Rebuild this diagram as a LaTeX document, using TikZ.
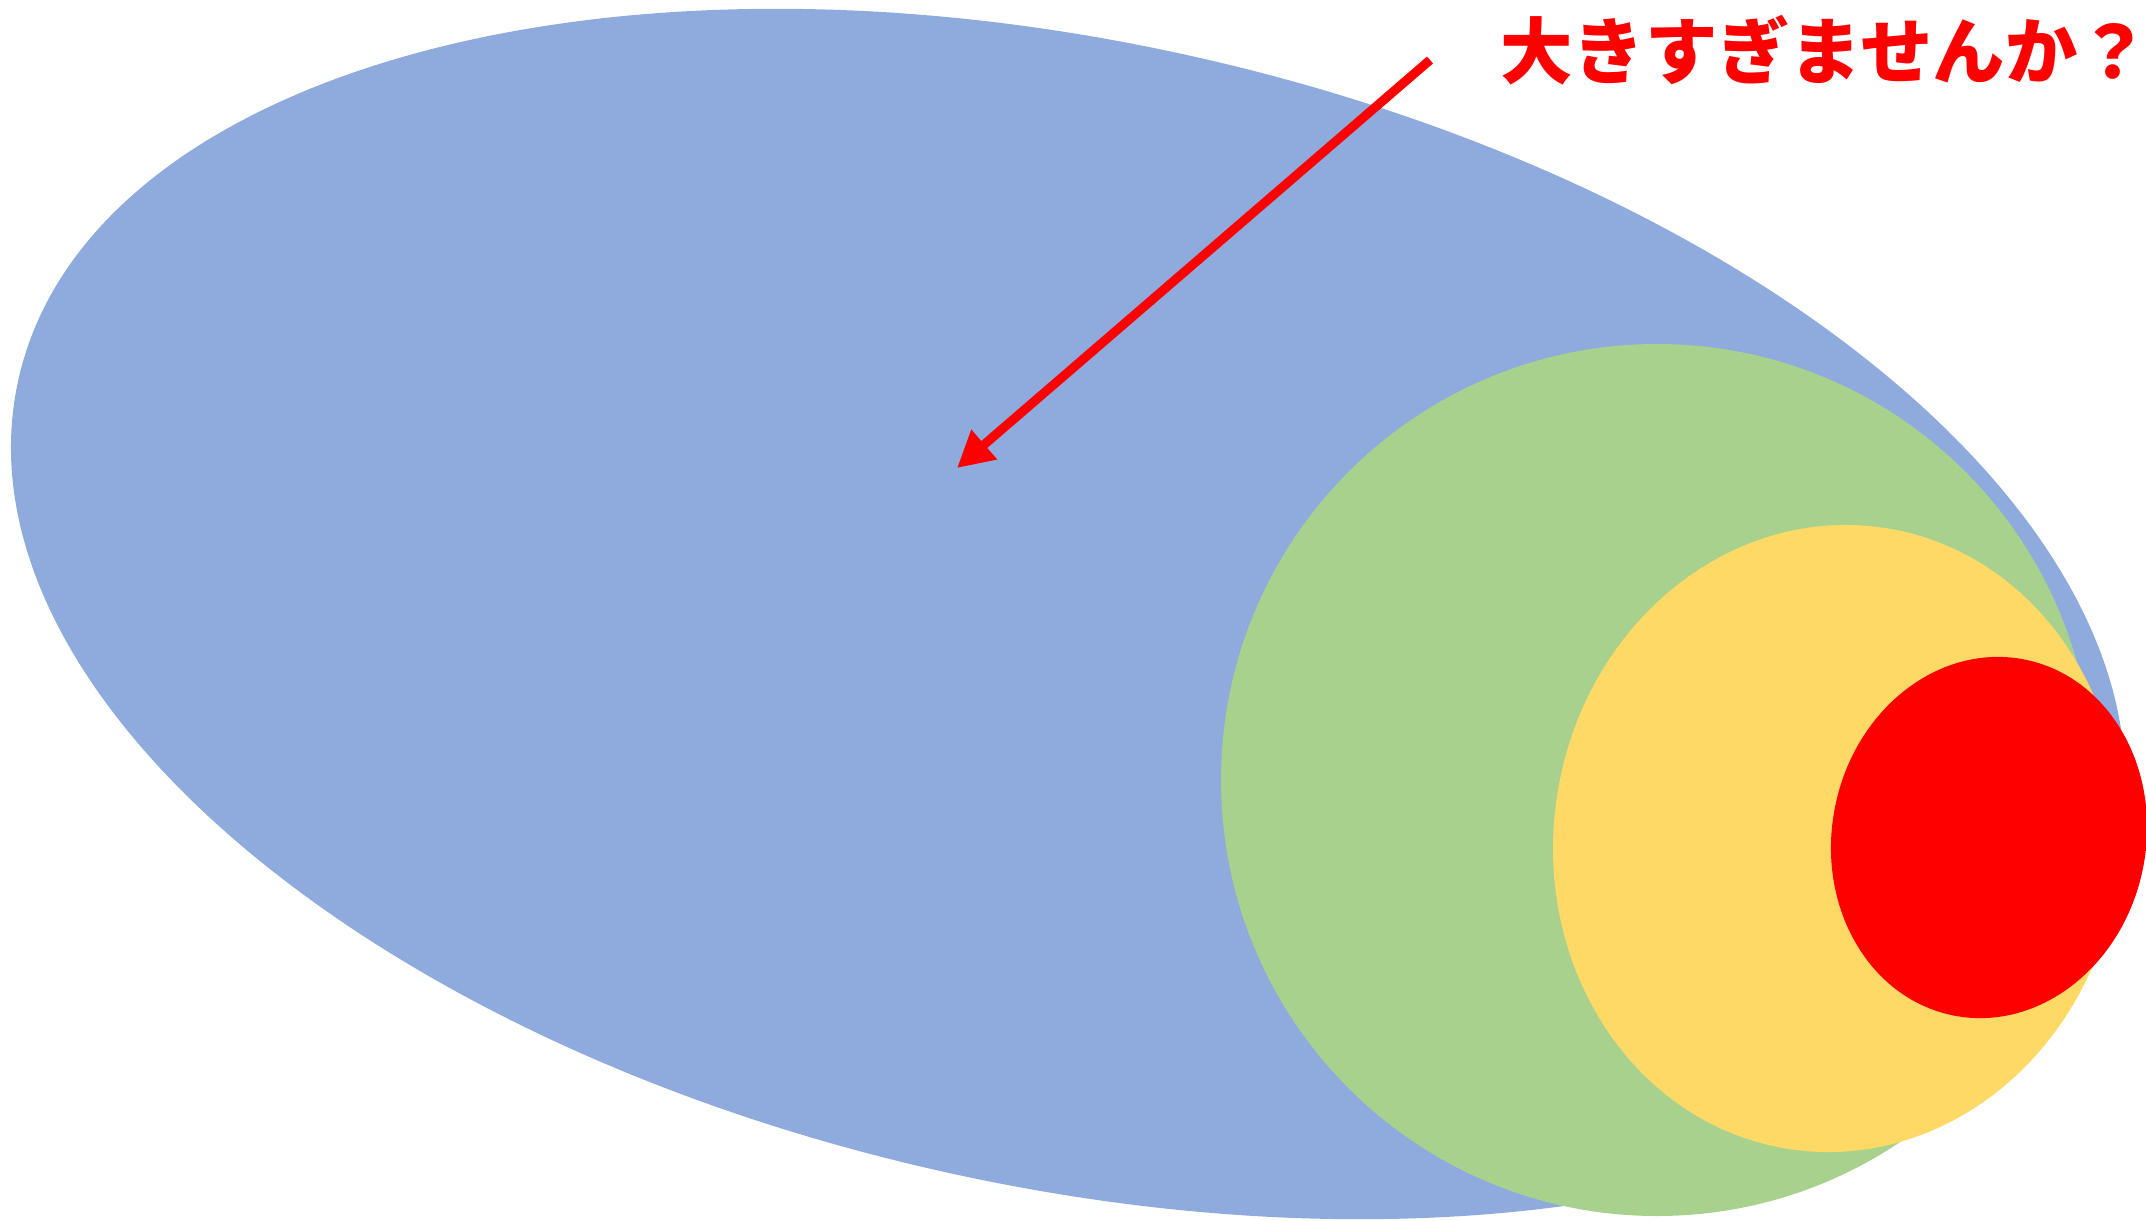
\documentclass[tikz,border=0pt]{standalone}
\usepackage{fontspec}
\usepackage{tikz}
\usetikzlibrary{arrows.meta}
\newfontfamily\jpfont{Noto Sans CJK JP}

\definecolor{bigblue}{HTML}{8FAADC}
\definecolor{midgreen}{HTML}{A9D18E}
\definecolor{smallyellow}{HTML}{FFD966}
\definecolor{tinyred}{HTML}{FF0000}

\tikzset{
  blob/.style={draw=none},
  pointer/.style={-{Triangle[length=0.36cm,width=0.37cm]}, line width=2.6pt, tinyred},
  remark/.style={text=tinyred, font=\jpfont\bfseries\fontsize{20.6}{21}\selectfont, inner sep=0pt}
}

\begin{document}
\begin{tikzpicture}

  % Picture frame
  \useasboundingbox (0,0) rectangle (21.46,12.20);
  \clip (0,0) rectangle (21.46,12.20);

  % Blue tilted ellipse
  \fill[blob, bigblue, shift={(10.68,6.06)}, rotate=-12.6]
    (0,0) ellipse [x radius=10.755, y radius=5.715];

  % Green circle
  \fill[blob, midgreen] (16.57,4.40) circle [radius=4.36];

  % Yellow ellipse
  \fill[blob, smallyellow, shift={(18.37,3.815)}, rotate=-8.8]
    (0,0) ellipse [x radius=2.832, y radius=3.142];

  % Red ellipse
  \fill[blob, tinyred, shift={(19.89,3.825)}, rotate=-11.5]
    (0,0) ellipse [x radius=1.57, y radius=1.815];

  % Arrow ends
  \coordinate (tail) at (14.30,11.60);
  \coordinate (head) at (9.57,7.52);

  % Question text
  \node[remark] (question) at (18.25,11.70) {大きすぎませんか？};

  % Red arrow
  \draw[pointer] (tail) -- (head);

\end{tikzpicture}
\end{document}
